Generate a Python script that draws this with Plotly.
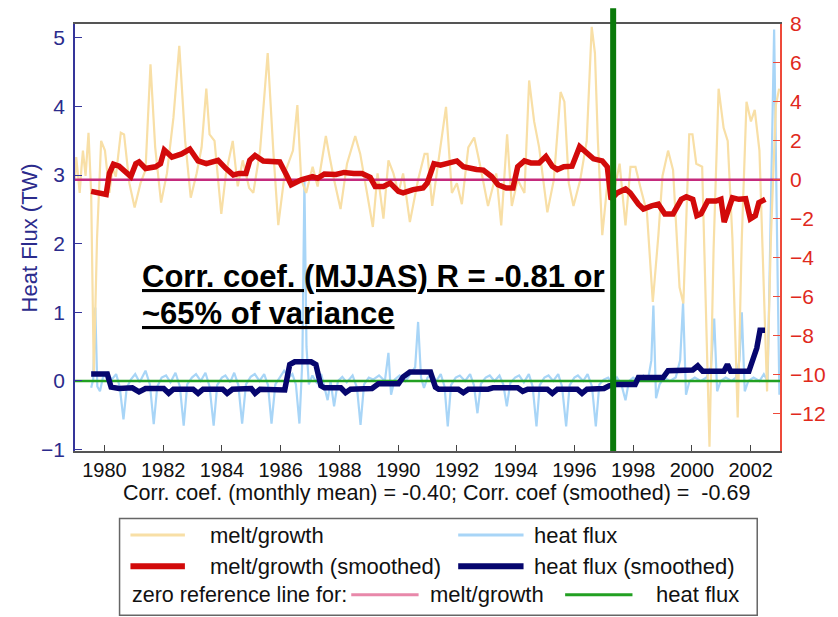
import plotly.graph_objects as go

# ---------------- data ----------------
mg_time = [1979.0, 1979.04, 1979.1, 1979.16, 1979.22, 1979.27, 1979.36, 1979.46, 1979.55, 1979.64,
           1979.75, 1979.89, 1980.02, 1980.17, 1980.28, 1980.39, 1980.56, 1980.67, 1980.85, 1981.03,
           1981.23, 1981.4, 1981.57, 1981.73, 1981.93, 1982.13, 1982.35, 1982.55, 1982.75, 1982.94,
           1983.14, 1983.31, 1983.47, 1983.58, 1983.75, 1983.98, 1984.14, 1984.37, 1984.54, 1984.71,
           1984.93, 1985.07, 1985.3, 1985.56, 1985.75, 1985.92, 1986.14, 1986.42, 1986.57, 1986.7,
           1986.87, 1987.09, 1987.26, 1987.54, 1987.65, 1987.82, 1988.04, 1988.26, 1988.54, 1988.71,
           1988.94, 1989.14, 1989.3, 1989.5, 1989.67, 1989.84, 1990.01, 1990.17, 1990.4, 1990.68,
           1990.9, 1991.0, 1991.16, 1991.38, 1991.63, 1991.83, 1992.0, 1992.17, 1992.39, 1992.59,
           1992.78, 1993.06, 1993.34, 1993.51, 1993.71, 1993.87, 1994.07, 1994.3, 1994.46, 1994.63,
           1994.8, 1995.08, 1995.3, 1995.53, 1995.66, 1995.81, 1995.97, 1996.2, 1996.42, 1996.59,
           1996.7, 1996.8, 1996.95, 1997.18, 1997.34, 1997.54, 1997.74, 1997.91, 1998.08, 1998.24,
           1998.47, 1998.67, 1998.86, 1999.0, 1999.19, 1999.36, 1999.58, 1999.71, 1999.91, 2000.02,
           2000.15, 2000.35, 2000.6, 2000.74, 2000.91, 2001.08, 2001.22, 2001.38, 2001.56, 2001.7,
           2001.86, 2002.01, 2002.14, 2002.3, 2002.45, 2002.56, 2002.69, 2002.86, 2002.97]
mg_value = [0.0, 1.17, 0.3, -0.67, 0.6, 1.5, 0.2, 2.42, -0.67, -10.0,
            -3.0, 2.0, 1.5, -0.67, 0.6, 0.17, 2.42, 2.33, -0.17, -1.42,
            -0.17, 0.5, 5.93, 1.67, -1.17, 0.33, 3.18, 6.88, 2.0, -0.92,
            0.33, 1.67, 4.68, 2.33, 2.0, -1.75, 0.33, 2.0, -0.33, 1.0,
            -0.42, -0.67, 1.5, 6.51, 1.5, -2.33, 0.33, 1.5, 3.84, 0.0,
            -0.67, 0.67, -0.34, 2.25, 1.33, 0.0, -1.5, 0.83, 2.25, 1.33,
            -0.67, -2.42, 0.33, -1.99, 1.0, 0.33, -0.67, 0.33, -2.17, 0.0,
            1.33, 1.33, -1.34, 1.17, 3.75, -0.67, -0.17, -1.25, 1.67, 2.17,
            0.83, -1.34, 0.33, -2.34, 2.34, -1.34, 0.0, -0.67, 5.1, 3.0,
            1.67, -1.67, 0.0, 4.51, 4.01, -0.17, -1.34, 0.0, 2.0, 7.85,
            6.51, 2.0, -2.84, 0.67, -0.67, 0.83, -2.34, 0.67, 0.67, -0.34,
            -1.67, -6.27, -2.84, 0.2, 1.5, 0.5, -5.52, -6.35, 2.34, 2.34,
            0.83, 0.67, -13.7, -3.51, 4.68, 2.67, 2.0, -3.0, -12.2, -3.0,
            4.01, 3.0, 3.59, 1.5, -6.35, -10.86, -3.0, 3.84, 4.68]

hf_time = [1979.55, 1979.62, 1979.69, 1979.76, 1979.85, 1979.95, 1980.1, 1980.25, 1980.4, 1980.52,
           1980.65, 1980.76, 1980.9, 1981.05, 1981.2, 1981.4, 1981.55, 1981.68, 1981.8, 1981.95,
           1982.1, 1982.25, 1982.42, 1982.57, 1982.7, 1982.82, 1982.98, 1983.12, 1983.28, 1983.44,
           1983.58, 1983.72, 1983.84, 1984.0, 1984.12, 1984.28, 1984.42, 1984.56, 1984.69, 1984.82,
           1984.98, 1985.12, 1985.28, 1985.44, 1985.57, 1985.69, 1985.82, 1985.98, 1986.12, 1986.28,
           1986.4, 1986.52, 1986.64, 1986.74, 1986.81, 1986.88, 1986.96, 1987.08, 1987.22, 1987.38,
           1987.6, 1987.7, 1987.82, 1987.95, 1988.1, 1988.25, 1988.45, 1988.6, 1988.72, 1988.84,
           1989.0, 1989.15, 1989.35, 1989.55, 1989.67, 1989.76, 1989.88, 1990.05, 1990.25, 1990.45,
           1990.58, 1990.68, 1990.78, 1990.88, 1991.0, 1991.15, 1991.3, 1991.45, 1991.58, 1991.69,
           1991.8, 1991.96, 1992.1, 1992.28, 1992.45, 1992.58, 1992.7, 1992.82, 1992.98, 1993.12,
           1993.28, 1993.45, 1993.58, 1993.7, 1993.82, 1993.98, 1994.12, 1994.28, 1994.45, 1994.58,
           1994.71, 1994.82, 1994.98, 1995.12, 1995.28, 1995.45, 1995.58, 1995.72, 1995.84, 1996.0,
           1996.12, 1996.3, 1996.45, 1996.6, 1996.73, 1996.85, 1997.0, 1997.15, 1997.3, 1997.45,
           1997.6, 1997.74, 1997.86, 1998.0, 1998.15, 1998.35, 1998.5, 1998.62, 1998.69, 1998.78,
           1998.9, 1999.05, 1999.25, 1999.45, 1999.6, 1999.7, 1999.8, 1999.92, 2000.1, 2000.3,
           2000.5, 2000.65, 2000.76, 2000.86, 2000.98, 2001.15, 2001.35, 2001.5, 2001.62, 2001.7,
           2001.8, 2001.92, 2002.1, 2002.3, 2002.45, 2002.58, 2002.68, 2002.8, 2002.92, 2002.98]
hf_value = [-0.1, 0.02, 1.07, -0.08, -0.15, 0.05, 0.12, 0.02, 0.1, -0.08,
            -0.56, -0.1, 0.02, 0.1, -0.02, 0.15, -0.05, -0.63, -0.08, 0.05,
            0.08, -0.02, 0.12, -0.08, -0.65, -0.05, 0.05, 0.1, 0.0, 0.12,
            -0.08, -0.65, -0.06, 0.05, 0.08, -0.02, 0.12, -0.06, -0.62, -0.05,
            0.06, 0.1, 0.0, 0.1, -0.06, -0.62, -0.05, 0.06, 0.15, 0.05,
            0.1, -0.05, -0.62, 0.3, 2.9, 0.5, -0.05, 0.08, -0.02, 0.1,
            -0.28, 0.0, -0.37, 0.0, 0.06, -0.02, 0.08, -0.1, -0.64, -0.05,
            0.05, 0.02, 0.08, 0.0, 0.41, -0.2, 0.02, 0.08, 0.0, 0.12,
            0.2, 0.86, 0.05, -0.1, 0.05, 0.1, 0.0, 0.1, -0.08, -0.66,
            -0.06, 0.05, 0.08, 0.0, 0.1, -0.06, -0.47, -0.04, 0.05, 0.08,
            0.0, 0.08, -0.05, -0.37, -0.03, 0.05, 0.08, -0.02, 0.1, -0.08,
            -0.66, -0.06, 0.05, 0.08, 0.0, 0.1, -0.08, -0.66, -0.06, 0.05,
            0.08, 0.0, 0.1, -0.08, -0.66, -0.05, 0.02, 0.05, -0.05, 0.05,
            -0.05, -0.28, 0.0, 0.05, 0.0, 0.08, 0.0, 0.3, 1.1, -0.25,
            -0.05, 0.05, 0.0, 0.05, 0.3, 1.14, -0.2, 0.0, 0.05, 0.0,
            0.05, 0.2, 0.91, -0.15, 0.0, 0.05, 0.0, 0.05, 0.3, 1.0,
            -0.15, 0.0, 0.05, 0.0, 0.1, 0.0, 2.5, 5.12, 1.5, -0.2]

mg_smooth_time = [1979.55, 1979.75, 1980.06, 1980.17, 1980.31, 1980.5, 1980.78, 1980.9, 1981.07, 1981.18,
                  1981.4, 1981.74, 1981.91, 1982.04, 1982.3, 1982.63, 1982.91, 1983.19, 1983.47, 1983.87,
                  1984.14, 1984.39, 1984.59, 1984.82, 1984.95, 1985.13, 1985.41, 1985.69, 1985.97, 1986.2,
                  1986.36, 1986.7, 1987.09, 1987.26, 1987.49, 1987.88, 1988.16, 1988.49, 1988.77, 1989.05,
                  1989.22, 1989.5, 1989.73, 1990.01, 1990.17, 1990.51, 1990.85, 1990.99, 1991.22, 1991.44,
                  1991.72, 1992.0, 1992.22, 1992.45, 1992.67, 1992.9, 1993.18, 1993.4, 1993.68, 1993.91,
                  1994.07, 1994.3, 1994.52, 1994.8, 1995.03, 1995.25, 1995.42, 1995.64, 1995.92, 1996.18,
                  1996.43, 1996.65, 1996.95, 1997.12, 1997.25, 1997.46, 1997.74, 1997.9, 1998.18, 1998.35,
                  1998.63, 1998.86, 1999.08, 1999.36, 1999.64, 1999.81, 2000.03, 2000.17, 2000.31, 2000.54,
                  2000.82, 2000.99, 2001.1, 2001.27, 2001.38, 2001.6, 2001.83, 2001.99, 2002.16, 2002.28,
                  2002.5]
mg_smooth_value = [-0.59, -0.65, -0.75, 0.33, 0.8, 0.7, 0.3, 0.17, 0.83, 0.92,
                   0.58, 0.67, 0.83, 1.53, 1.17, 1.33, 1.58, 0.97, 0.83, 1.0,
                   0.58, 0.25, 0.33, 0.33, 1.0, 1.25, 0.97, 0.92, 0.92, 0.25,
                   -0.25, 0.0, 0.17, 0.08, 0.3, 0.28, 0.38, 0.33, 0.33, 0.13,
                   -0.34, -0.34, -0.17, -0.59, -0.67, -0.5, -0.42, -0.17, 0.83, 0.75,
                   0.83, 0.97, 0.67, 0.58, 0.53, 0.5, 0.17, -0.25, -0.42, -0.42,
                   0.67, 0.97, 0.87, 0.87, 1.2, 0.7, 0.53, 0.67, 0.7, 1.7,
                   1.33, 1.08, 0.97, 0.67, -1.0, -0.67, -0.47, -0.67, -1.25, -1.5,
                   -1.34, -1.25, -1.75, -1.75, -1.0, -0.87, -1.0, -1.84, -1.75, -1.09,
                   -1.09, -1.0, -2.17, -1.34, -0.92, -1.0, -0.97, -2.0, -1.84, -1.17,
                   -1.0]

hf_smooth_time = [1979.55, 1980.1, 1980.23, 1980.5, 1980.95, 1981.18, 1981.4, 1982.02, 1982.19, 1982.35,
                  1983.02, 1983.19, 1983.36, 1984.03, 1984.18, 1984.36, 1985.0, 1985.13, 1985.3, 1986.14,
                  1986.31, 1986.48, 1987.04, 1987.2, 1987.37, 1987.49, 1988.05, 1988.21, 1988.38, 1989.11,
                  1989.33, 1990.01, 1990.17, 1990.4, 1991.1, 1991.27, 1991.38, 1992.05, 1992.22, 1992.39,
                  1993.06, 1993.23, 1994.07, 1994.24, 1994.41, 1995.08, 1995.25, 1995.42, 1996.1, 1996.26,
                  1996.43, 1997.01, 1997.18, 1997.46, 1998.07, 1998.18, 1999.02, 1999.19, 2000.03, 2000.2,
                  2000.37, 2001.09, 2001.21, 2001.32, 2001.94, 2002.1, 2002.21, 2002.32, 2002.49]
hf_smooth_value = [0.1, 0.1, -0.09, -0.11, -0.1, -0.16, -0.11, -0.11, -0.18, -0.12,
                   -0.12, -0.18, -0.12, -0.12, -0.18, -0.12, -0.11, -0.18, -0.12, -0.13,
                   0.24, 0.28, 0.28, 0.24, -0.07, -0.1, -0.1, -0.17, -0.12, -0.11,
                   -0.04, -0.04, 0.06, 0.13, 0.13, -0.09, -0.12, -0.12, -0.17, -0.12,
                   -0.12, -0.1, -0.1, -0.15, -0.12, -0.12, -0.18, -0.12, -0.12, -0.18,
                   -0.12, -0.11, -0.07, -0.05, -0.05, 0.05, 0.05, 0.15, 0.16, 0.22,
                   0.14, 0.14, 0.24, 0.14, 0.14, 0.32, 0.48, 0.74, 0.74]

x_range = [1979, 2003]
x_ticks = list(range(1980, 2003, 2))
left_range = [-1.02, 5.2]
left_ticks = [-1, 0, 1, 2, 3, 4, 5]
right_range = [-13.92, 8]
right_ticks = [-12, -10, -8, -6, -4, -2, 0, 2, 4, 6, 8]
break_year = 1997.32

# ---------------- colours ----------------
C_MG = "#f8dfa6"
C_HF = "#a8d5f7"
C_MG_S = "#d20a0a"
C_HF_S = "#06066e"
C_MAG = "#c42a7c"
C_GRN = "#22a022"
C_NAVY_TXT = "#2b2b8c"
C_RED_TXT = "#e0291c"
FONT = "Arial, Liberation Sans, sans-serif"

fig = go.Figure()
# thin monthly series
fig.add_trace(go.Scatter(x=hf_time, y=hf_value, mode="lines", yaxis="y",
                         line=dict(color=C_HF, width=2.2)))
fig.add_trace(go.Scatter(x=mg_time, y=mg_value, mode="lines", yaxis="y2",
                         line=dict(color=C_MG, width=2.2)))
# zero reference for melt/growth
fig.add_trace(go.Scatter(x=x_range, y=[0, 0], mode="lines", yaxis="y2",
                         line=dict(color=C_MAG, width=2.5)))
fig.add_trace(go.Scatter(x=mg_smooth_time, y=mg_smooth_value, mode="lines", yaxis="y2",
                         line=dict(color=C_MG_S, width=5.5)))
# zero reference for heat flux
fig.add_trace(go.Scatter(x=x_range, y=[0, 0], mode="lines", yaxis="y3",
                         line=dict(color=C_GRN, width=2.5)))
fig.add_trace(go.Scatter(x=hf_smooth_time, y=hf_smooth_value, mode="lines", yaxis="y3",
                         line=dict(color=C_HF_S, width=5.5)))

L, R, T, B = 75, 51, 14, 166
W, H = 838, 617
pw, ph = W - L - R, H - T - B


def px(xp):
    return (xp - L) / pw


def py(yp):
    return (H - B - yp) / ph


shapes = [
    dict(type="line", xref="x", yref="paper", x0=break_year, x1=break_year, y0=0, y1=py(-2),
         line=dict(color="#0a7a0a", width=6), layer="above"),
    # legend box
    dict(type="rect", xref="paper", yref="paper", x0=px(120), x1=px(764), y0=py(520), y1=py(619),
         line=dict(color="#666666", width=1.5), fillcolor="rgba(0,0,0,0)"),
]

legend_rows = [
    (537, 131, 186, C_MG, 3, 209, "melt/growth"),
    (537, 462, 528, C_HF, 3, 537, "heat flux"),
    (569, 131, 186, C_MG_S, 6, 209, "melt/growth (smoothed)"),
    (569, 462, 528, C_HF_S, 6, 537, "heat flux (smoothed)"),
    (598, 354, 422, "#e888aa", 3, 431, "melt/growth"),
    (598, 570, 638, C_GRN, 3, 660, "heat flux"),
]
annotations = []
for yy, xa, xb, col, wd, tx, label in legend_rows:
    shapes.append(dict(type="line", xref="paper", yref="paper", x0=px(xa), x1=px(xb),
                       y0=py(yy), y1=py(yy), line=dict(color=col, width=wd)))
    annotations.append(dict(xref="paper", yref="paper", x=px(tx), y=py(yy), xanchor="left",
                            yanchor="middle", text=label, showarrow=False,
                            font=dict(family=FONT, size=22, color="#111111")))
annotations.append(dict(xref="paper", yref="paper", x=px(131), y=py(598), xanchor="left",
                        yanchor="middle", text="zero reference line for:", showarrow=False,
                        font=dict(family=FONT, size=21.5, color="#111111")))

annotations.append(dict(xref="paper", yref="paper", x=px(440), y=py(494), xanchor="center",
                        yanchor="middle", showarrow=False,
                        text="Corr. coef. (monthly mean) = -0.40; Corr. coef (smoothed) =  -0.69",
                        font=dict(family=FONT, size=21.5, color="#111111")))
annotations.append(dict(xref="paper", yref="paper", x=px(141), y=py(272), xanchor="left",
                        yanchor="middle", showarrow=False,
                        text="<b><u>Corr. coef. (MJJAS) R = -0.81 or</u></b>",
                        font=dict(family=FONT, size=31, color="#000000")))
annotations.append(dict(xref="paper", yref="paper", x=px(141), y=py(310), xanchor="left",
                        yanchor="middle", showarrow=False,
                        text="<b><u>~65% of variance</u></b>",
                        font=dict(family=FONT, size=31, color="#000000")))
# left axis title
annotations.append(dict(xref="paper", yref="paper", x=px(30), y=py(233), xanchor="center",
                        yanchor="middle", showarrow=False, textangle=-90,
                        text="Heat Flux (TW)",
                        font=dict(family=FONT, size=22, color=C_NAVY_TXT)))

fig.update_layout(
    width=W, height=H,
    margin=dict(l=L, r=R, t=T, b=B),
    paper_bgcolor="white", plot_bgcolor="white",
    showlegend=False, hovermode=False,
    font=dict(family=FONT),
    xaxis=dict(range=x_range, tickvals=x_ticks, ticks="inside", ticklen=6, tickwidth=1.2,
               tickcolor="#444444", showline=True, linecolor="#555555", linewidth=1.5,
               mirror=True, showgrid=False, zeroline=False,
               tickfont=dict(family=FONT, size=20, color="#111111")),
    yaxis=dict(range=left_range, tickvals=left_ticks, ticks="inside", ticklen=7, tickwidth=1.2,
               tickcolor="#35359a", showline=True, linecolor="#35359a", linewidth=1.5,
               showgrid=False, zeroline=False, ticklabelstandoff=4,
               tickfont=dict(family=FONT, size=21, color=C_NAVY_TXT)),
    yaxis2=dict(range=right_range, tickvals=right_ticks, overlaying="y", side="right",
                ticks="inside", ticklen=7, tickwidth=1.2, tickcolor="#ee4a3a",
                showline=True, linecolor="#ee4a3a", linewidth=1.5,
                showgrid=False, zeroline=False, ticklabelstandoff=4,
                tickfont=dict(family=FONT, size=21, color=C_RED_TXT)),
    yaxis3=dict(range=left_range, overlaying="y", visible=False, showgrid=False, zeroline=False),
    shapes=shapes,
    annotations=annotations,
)

fig.write_html("out.html")
